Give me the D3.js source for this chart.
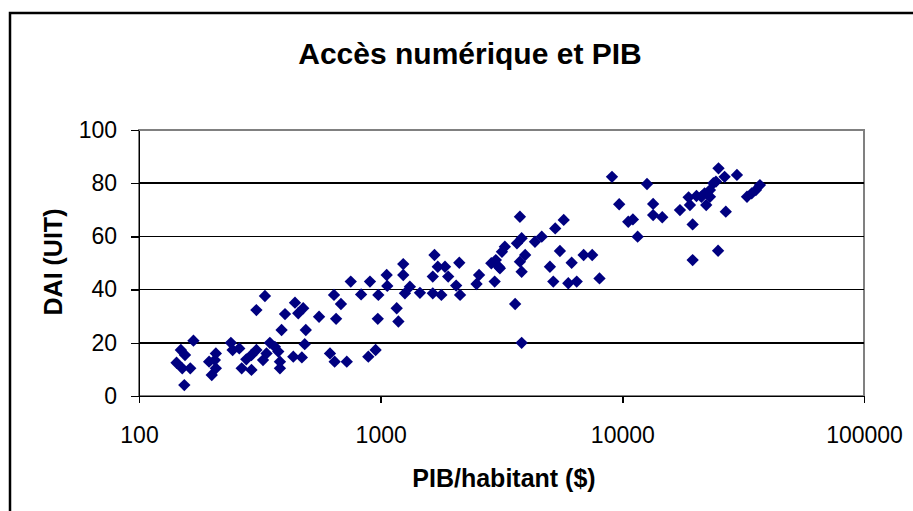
<!DOCTYPE html>
<html>
  <head>
    <meta charset="utf-8">
    <script src="https://cdn.jsdelivr.net/npm/d3@7"></script>
    <style type="text/css">
      body { margin: 0; background: #fff; }
      .axis text { font-family: "Liberation Sans", Arial, sans-serif; font-size: 23px; fill: #000; }
      .axis path, .axis line { stroke: #000; shape-rendering: crispEdges; }
      .grid line { stroke: #000; shape-rendering: crispEdges; }
      .title { font-family: "Liberation Sans", Arial, sans-serif; font-weight: bold; }
    </style>
  </head>
  <body>
    <div class="plot_canvas"></div>
    <script>
      // PIB par habitant ($) and DAI (UIT)
      var pib = [143, 149, 155, 151, 163, 154, 168, 195, 200, 208, 208, 206, 240, 244, 260, 266, 278, 292, 292, 306,
                 332, 306, 326, 337, 348, 365, 377, 383, 383, 389, 402, 442, 456, 435, 478, 490, 485, 472, 556, 617,
                 645, 724, 641, 685, 654, 752, 830, 903, 978, 973, 889, 953, 1059, 1065, 1165, 1184, 1240, 1240, 1260, 1321,
                 1454, 1643, 1783, 1670, 1643, 1723, 1846, 1903, 2115, 2053, 2131, 2493, 2554, 2963, 3080, 2996, 3175, 3265, 2870, 3115,
                 3769, 3831, 3664, 3962, 3769, 3831, 3601, 3831, 4350, 4640, 5276, 5721, 5517, 5016, 5180, 6170, 5975, 6475, 6916, 7505,
                 8045, 9061, 9705, 10580, 11060, 11570, 12650, 13410, 13410, 14630, 17314, 18800, 19045, 19540, 19540, 20270, 21250, 22240, 23045, 23800,
                 24400, 25000, 26500, 29800, 26800, 24900, 32800, 34300, 35700, 37100, 23045, 21900];
      var dai = [12.5, 17.3, 15.4, 10.4, 10.4, 4.1, 20.8, 12.9, 7.9, 16, 10.4, 13.5, 20, 17.3, 17.9, 10.4, 13.8, 9.8, 15.4, 32.3,
                 37.6, 17.3, 13.5, 16, 20, 18.5, 16.7, 10.4, 12.9, 24.8, 30.8, 35.1, 31.1, 14.8, 33, 24.8, 19.5, 14.5, 29.8, 16,
                 12.9, 12.9, 38, 34.6, 29, 43, 38.2, 43, 38, 29, 14.8, 17.3, 45.5, 41.4, 33, 28, 49.6, 45.5, 38.6, 41.1,
                 38.8, 38.6, 38, 53, 44.9, 48.6, 48.6, 44.9, 50.1, 41.5, 38, 42.1, 45.5, 43, 48.6, 51.1, 54.2, 56.1, 49.9, 48,
                 67.4, 59.3, 57.4, 53, 50.5, 46.7, 34.6, 20, 58, 59.9, 63, 66.2, 54.5, 48.6, 43, 50.1, 42.4, 43, 53, 53,
                 44.2, 82.4, 72.1, 65.5, 66.4, 59.9, 79.7, 72.2, 68, 67.2, 69.9, 74.7, 71.8, 64.5, 51.1, 75.2, 74.9, 71.8, 77.4, 80,
                 80.6, 85.6, 82.4, 83.1, 69.3, 54.6, 74.9, 76.2, 77.4, 79.3, 74.9, 76.2];
      var xTicks = [100, 1000, 10000, 100000];
      var yTicks = [0, 20, 40, 60, 80, 100];

      var width = 913;
      var height = 511;
      var plot = {left: 139, right: 864, top: 130, bottom: 396};

      var svg = d3.select(".plot_canvas")
      .append("svg")
      .attr("width", width)
      .attr("height", height);

      // chart area frame (runs off the picture at right and bottom)
      svg.append("rect")
      .attr("x", 10).attr("y", 13)
      .attr("width", 1000).attr("height", 600)
      .attr("fill", "#fff")
      .attr("stroke", "#000")
      .attr("stroke-width", 2.5);

      var xScale = d3.scaleLog()
      .domain([100, 100000])
      .range([plot.left, plot.right]);

      var yScale = d3.scaleLinear()
      .domain([0, 100])
      .range([plot.bottom, plot.top]);

      // plot area border
      svg.append("rect")
      .attr("x", plot.left).attr("y", plot.top)
      .attr("width", plot.right - plot.left)
      .attr("height", plot.bottom - plot.top)
      .attr("fill", "none")
      .attr("stroke", "#808080")
      .attr("stroke-width", 2)
      .attr("shape-rendering", "crispEdges");

      // gridlines
      svg.append("g")
      .attr("class", "grid")
      .selectAll("line")
      .data(yTicks.filter(function(d) { return d > 0 && d < 100; }))
      .enter().append("line")
      .attr("x1", plot.left).attr("x2", plot.right)
      .attr("y1", function(d) { return yScale(d); })
      .attr("y2", function(d) { return yScale(d); })
      .attr("stroke-width", 1.5);

      var yAxis = d3.axisLeft(yScale)
      .tickValues(yTicks)
      .tickSize(8)
      .tickPadding(14)
      .tickSizeOuter(0);

      svg.append("g")
      .attr("class", "axis")
      .attr("transform", "translate(" + plot.left + ",0)")
      .call(yAxis)
      .selectAll("path, line").attr("stroke-width", 1.5);

      var xAxis = d3.axisBottom(xScale)
      .tickValues(xTicks)
      .tickFormat(d3.format("d"))
      .tickSize(7)
      .tickPadding(24)
      .tickSizeOuter(0);

      svg.append("g")
      .attr("class", "axis")
      .attr("transform", "translate(0," + plot.bottom + ")")
      .call(xAxis)
      .selectAll("path, line").attr("stroke-width", 1.5);

      // points
      var diamond = d3.symbol().type(d3.symbolSquare).size(76);
      svg.append("g")
      .selectAll("path")
      .data(pib.map(function(d, i) { return {x: d, y: dai[i]}; }))
      .enter().append("path")
      .attr("d", diamond)
      .attr("transform", function(d) { return "translate(" + xScale(d.x) + "," + yScale(d.y) + ") rotate(45)"; })
      .attr("fill", "#000080");

      // titles
      svg.append("text")
      .attr("class", "title")
      .attr("x", 470).attr("y", 64)
      .attr("text-anchor", "middle")
      .attr("font-size", 30)
      .text("Accès numérique et PIB");

      svg.append("text")
      .attr("class", "title")
      .attr("x", 504).attr("y", 487)
      .attr("text-anchor", "middle")
      .attr("font-size", 25)
      .text("PIB/habitant ($)");

      svg.append("text")
      .attr("class", "title")
      .attr("transform", "translate(62,262) rotate(-90)")
      .attr("text-anchor", "middle")
      .attr("font-size", 25)
      .text("DAI (UIT)");
    </script>
  </body>
</html>
